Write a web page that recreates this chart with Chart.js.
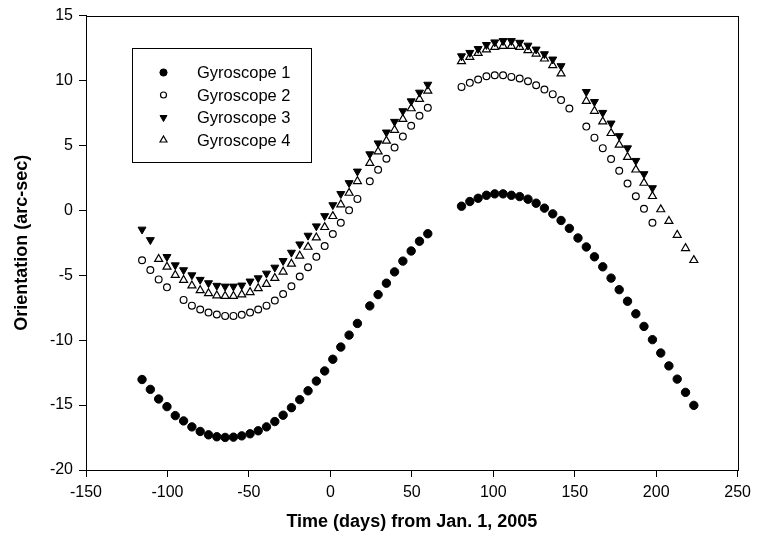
<!DOCTYPE html>
<html><head><meta charset="utf-8">
<script src="https://cdn.jsdelivr.net/npm/chart.js@4.4.1/dist/chart.umd.min.js"></script>
<style>html,body{margin:0;padding:0;background:#fff}#wrap{width:757px;height:545px;position:relative}</style>
</head><body><div id="wrap"><canvas id="c" width="757" height="545"></canvas></div>
<script>
// ---- data ----
const seriesNames = ["Gyroscope 1", "Gyroscope 2", "Gyroscope 3", "Gyroscope 4"];
const xTickLabels = [-150, -100, -50, 0, 50, 100, 150, 200, 250];
const yTickLabels = [-20, -15, -10, -5, 0, 5, 10, 15];

const g1Days = [-115.6,-110.5,-105.4,-100.3,-95.2,-90.1,-85.0,-79.9,-74.8,-69.7,-64.6,-59.5,-54.4,-49.3,-44.3,-39.2,-34.1,-29.0,-23.9,-18.8,-13.7,-8.6,-3.5,1.5,6.4,11.5,16.6,24.2,29.3,34.4,39.4,44.5,49.6,54.7,59.8,
  80.5,85.6,90.7,95.8,100.9,106.0,111.1,116.2,121.3,126.3,131.4,136.5,141.6,146.7,152.0,157.1,162.1,167.2,172.3,177.3,182.4,187.5,192.5,197.7,202.8,207.8,212.9,218.0,223.1];
const g1Vals = [-13.03,-13.79,-14.53,-15.12,-15.81,-16.22,-16.68,-17.03,-17.29,-17.44,-17.49,-17.47,-17.37,-17.21,-16.98,-16.68,-16.27,-15.78,-15.20,-14.58,-13.90,-13.15,-12.37,-11.47,-10.53,-9.61,-8.71,-7.36,-6.49,-5.61,-4.74,-3.91,-3.13,-2.38,-1.80,
  0.32,0.68,0.93,1.16,1.27,1.27,1.16,1.06,0.86,0.55,0.17,-0.27,-0.78,-1.39,-2.13,-2.82,-3.58,-4.35,-5.22,-6.11,-7.00,-7.97,-8.94,-9.96,-10.99,-11.98,-13.00,-14.02,-15.02];

const g2Days = [-115.6,-110.5,-105.4,-100.3,-90.1,-85.0,-79.9,-74.8,-69.7,-64.6,-59.5,-54.4,-49.3,-44.3,-39.2,-34.1,-29.0,-23.9,-18.8,-13.7,-8.6,-3.5,1.5,6.4,11.5,16.6,24.2,29.3,34.4,39.4,44.5,49.6,54.7,59.8,
  80.5,85.6,90.7,95.8,100.9,106.0,111.1,116.2,121.3,126.3,131.4,136.5,141.6,146.7,157.1,162.1,167.2,172.3,177.3,182.4,187.5,192.5,197.7];
const g2Vals = [-3.84,-4.60,-5.32,-5.93,-6.90,-7.34,-7.64,-7.87,-8.02,-8.13,-8.13,-8.05,-7.87,-7.64,-7.34,-6.95,-6.45,-5.85,-5.10,-4.38,-3.58,-2.75,-1.82,-0.95,0.00,0.88,2.24,3.13,3.97,4.84,5.68,6.52,7.29,7.90,
  9.51,9.82,10.07,10.33,10.40,10.40,10.28,10.15,9.94,9.64,9.31,8.95,8.49,7.85,6.45,5.60,4.79,3.95,3.05,2.06,1.09,0.12,-0.95];

const g3Days = [-115.6,-110.5,-100.3,-95.2,-90.1,-85.0,-79.9,-74.8,-69.7,-64.6,-59.5,-54.4,-49.3,-44.3,-39.2,-34.1,-29.0,-23.9,-18.8,-13.7,-8.6,-3.5,1.5,6.4,11.5,16.6,24.2,29.3,34.4,39.4,44.5,49.6,54.7,59.8,
  80.5,85.6,90.7,95.8,100.9,106.0,111.1,116.2,121.3,126.3,131.4,136.5,141.6,157.1,162.1,167.2,172.3,177.3,182.4,187.5,192.5,197.7];
const g3Vals = [-1.47,-2.28,-3.58,-4.22,-4.60,-4.99,-5.34,-5.60,-5.80,-5.86,-5.86,-5.78,-5.47,-5.22,-4.86,-4.40,-3.89,-3.25,-2.61,-1.94,-1.22,-0.43,0.41,1.27,2.11,3.00,4.33,5.17,6.01,6.83,7.65,8.41,9.08,9.69,
  11.88,12.14,12.44,12.75,12.95,13.05,13.05,12.92,12.70,12.40,12.04,11.63,11.12,9.13,8.36,7.52,6.70,5.73,4.79,3.82,2.80,1.72];

const g4Days = [-105.4,-100.3,-95.2,-90.1,-85.0,-79.9,-74.8,-69.7,-64.6,-59.5,-54.4,-49.3,-44.3,-39.2,-34.1,-29.0,-23.9,-18.8,-13.7,-8.6,-3.5,1.5,6.4,11.5,16.6,24.2,29.3,34.4,39.4,44.5,49.6,54.7,59.8,
  80.5,85.6,90.7,95.8,100.9,106.0,111.1,116.2,121.3,126.3,131.4,136.5,141.6,157.1,162.1,167.2,172.3,177.3,182.4,187.5,192.5,197.7,202.8,207.8,212.9,218.0,223.1];
const g4Vals = [-3.76,-4.35,-4.99,-5.37,-5.80,-6.16,-6.39,-6.57,-6.60,-6.60,-6.49,-6.31,-6.01,-5.68,-5.22,-4.73,-4.12,-3.51,-2.82,-2.10,-1.30,-0.45,0.45,1.34,2.24,3.64,4.53,5.35,6.19,7.03,7.85,8.57,9.20,
  11.48,11.81,12.11,12.39,12.57,12.65,12.65,12.57,12.32,12.06,11.68,11.17,10.53,8.41,7.65,6.83,5.94,5.04,4.10,3.13,2.11,1.09,0.07,-0.83,-1.90,-2.92,-3.84];

// ---- chart ----
const toPts = (xs, ys) => xs.map((x, i) => ({x: x, y: ys[i]}));
const FONT = "'Liberation Sans', Arial, sans-serif";

const styles = [
  {pointStyle: 'circle', radius: 4.2, rotation: 0, bg: '#000', border: '#000', bw: 1},
  {pointStyle: 'circle', radius: 3.4, rotation: 0, bg: '#fff', border: '#000', bw: 1.2},
  {pointStyle: 'triangle', radius: 4.6, rotation: 180, bg: '#000', border: '#000', bw: 1},
  {pointStyle: 'triangle', radius: 4.6, rotation: 0, bg: '#fff', border: '#000', bw: 1.2}
];
const allData = [toPts(g1Days, g1Vals), toPts(g2Days, g2Vals), toPts(g3Days, g3Vals), toPts(g4Days, g4Vals)];

const datasets = seriesNames.map((name, i) => ({
  label: name,
  data: allData[i],
  showLine: false,
  pointStyle: styles[i].pointStyle,
  pointRadius: styles[i].radius,
  pointRotation: styles[i].rotation,
  pointBackgroundColor: styles[i].bg,
  pointBorderColor: styles[i].border,
  pointBorderWidth: styles[i].bw
}));

const framePlugin = {
  id: 'frame',
  afterDraw(chart) {
    const {ctx, chartArea: a} = chart;
    ctx.save();
    ctx.strokeStyle = '#000';
    ctx.lineWidth = 1;
    const l = Math.round(a.left) + 0.5, t = Math.round(a.top) + 0.5;
    const r = Math.round(a.right) + 0.5, b = Math.round(a.bottom) + 0.5;
    ctx.strokeRect(l, t, r - l, b - t);
    // legend box
    const bx = 132.5, by = 48.5, bw = 179, bh = 114;
    ctx.fillStyle = '#fff';
    ctx.fillRect(bx, by, bw, bh);
    ctx.strokeRect(bx, by, bw, bh);
    ctx.font = '16.5px ' + FONT;
    ctx.textBaseline = 'middle';
    ctx.textAlign = 'left';
    const rows = [72.5, 95, 117.5, 140];
    seriesNames.forEach((name, i) => {
      const s = styles[i];
      ctx.fillStyle = s.bg;
      ctx.strokeStyle = s.border;
      ctx.lineWidth = s.bw;
      Chart.helpers.drawPoint(ctx, {pointStyle: s.pointStyle, radius: s.pointStyle === 'circle' ? (i === 0 ? 3.6 : 3.0) : 4.0, rotation: s.rotation, borderWidth: s.bw}, 163.5, rows[i]);
      ctx.fillStyle = '#000';
      ctx.fillText(name, 197, rows[i] + 1);
    });
    ctx.restore();
  }
};

new Chart(document.getElementById('c'), {
  type: 'scatter',
  data: {datasets},
  options: {
    responsive: false,
    animation: false,
    devicePixelRatio: 1,
    layout: {padding: {top: 13, right: 15, left: 0, bottom: 0}},
    plugins: {legend: {display: false}, tooltip: {enabled: false}},
    scales: {
      x: {
        type: 'linear', min: -150, max: 250,
        afterBuildTicks: (s) => { s.ticks = xTickLabels.map(v => ({value: v})); },
        afterFit: (s) => { s.height = 75; },
        ticks: {color: '#000', font: {family: FONT, size: 16}, padding: 6, maxRotation: 0},
        grid: {display: true, drawOnChartArea: false, drawTicks: true, tickLength: 7, color: '#000', lineWidth: 1},
        border: {display: true, color: '#000', width: 1},
        title: {display: true, text: 'Time (days) from Jan. 1, 2005', color: '#000', font: {family: FONT, size: 18, weight: 'bold'}, padding: {top: 0, bottom: 12}}
      },
      y: {
        type: 'linear', min: -20, max: 15,
        afterBuildTicks: (s) => { s.ticks = yTickLabels.map(v => ({value: v})); },
        afterFit: (s) => { s.width = 86; },
        ticks: {color: '#000', font: {family: FONT, size: 16}, padding: 6},
        grid: {display: true, drawOnChartArea: false, drawTicks: true, tickLength: 7, color: '#000', lineWidth: 1},
        border: {display: true, color: '#000', width: 1},
        title: {display: true, text: 'Orientation (arc-sec)', color: '#000', font: {family: FONT, size: 18, weight: 'bold'}, padding: {top: 11, bottom: 0}}
      }
    }
  },
  plugins: [framePlugin]
});
</script>
</body></html>
